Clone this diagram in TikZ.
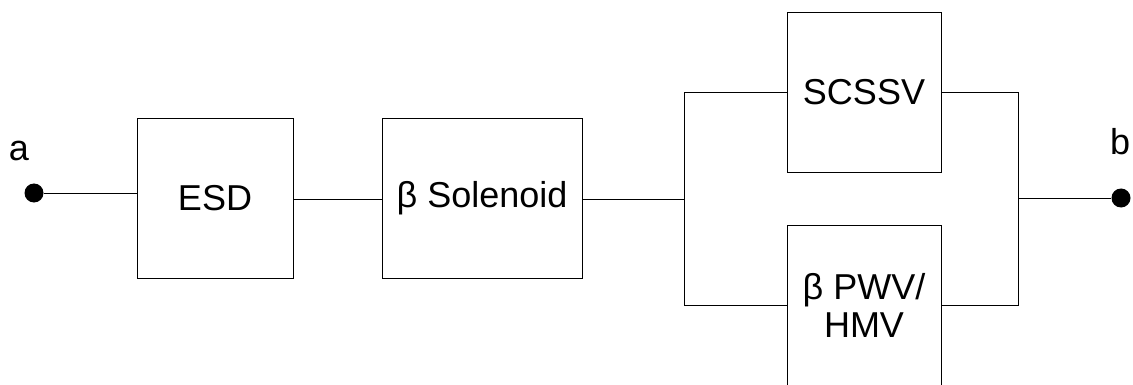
\documentclass[tikz,border=0pt]{standalone}
\usepackage{fontspec}
\setmainfont{Liberation Sans}
\usetikzlibrary{positioning}

\tikzset{
  block/.style={draw, line width=0.9pt, inner sep=0pt, align=center,
    minimum width=156pt, minimum height=160pt},
  term/.style={circle, fill, inner sep=0pt, minimum size=19pt},
  wire/.style={line width=0.9pt}
}

\begin{document}
\begin{tikzpicture}[x=1pt, y=-1pt, font=\fontsize{36}{38}\selectfont]
      \useasboundingbox (0,0) rectangle (1133,385);

      \node[term] (a) at (34,193) {};
      \node (la) at (19,151) {a};

      \node[block] (esd) at (215,198) {ESD};
      \node[block, minimum width=200pt] (sol) at (482,198.5) {β Solenoid};

      \node[block, minimum width=154pt] (scssv) at (864,92) {SCSSV};
      \node[block, minimum width=154pt] (pwv) at (864,305) {β PWV/\\HMV};

      \node[term] (b) at (1121,198) {};
      \node (lb) at (1120,142) {b};

      \coordinate (fork) at (684,199);
      \coordinate (join) at (1018,198);

      % series part
      \draw[wire] (a) -- (a -| esd.west);
      \draw[wire] (esd.east |- fork) -- (sol.west |- fork);
      \draw[wire] (sol.east |- fork) -- (fork);

      % parallel part
      \draw[wire] (scssv.west) -| (fork |- pwv.west) -- (pwv.west);
      \draw[wire] (scssv.east) -| (join |- pwv.east) -- (pwv.east);
      \draw[wire] (join) -- (b);
    \end{tikzpicture}
\end{document}
